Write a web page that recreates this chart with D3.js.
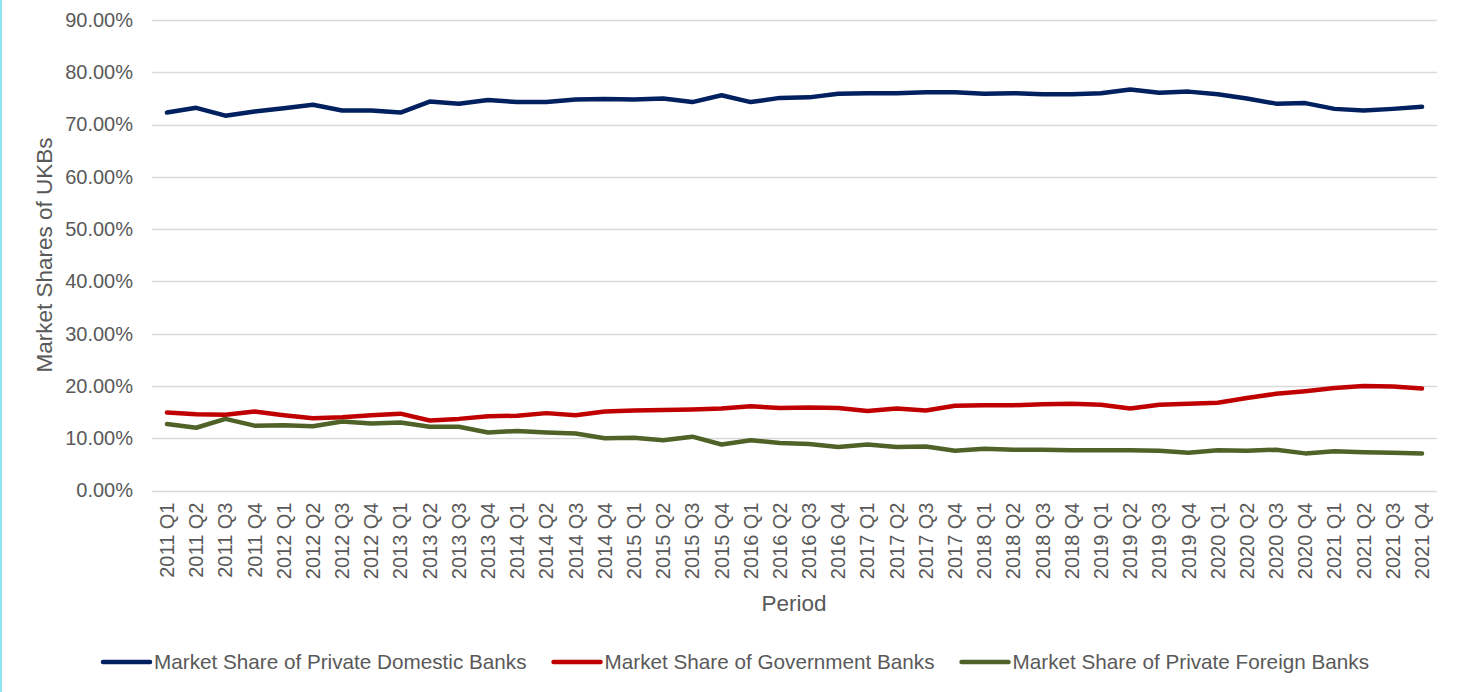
<!DOCTYPE html>
<html>
<head>
<meta charset="utf-8">
<script src="https://cdn.jsdelivr.net/npm/d3@7"></script>
<style>
  html, body { margin: 0; padding: 0; background: #fff; }
  svg { display: block; }
  text { font-family: "Liberation Sans", Arial, sans-serif; fill: #595959; }
</style>
</head>
<body>
<svg id="chart" width="1460" height="692"></svg>
<script>
const periods = [];
for (let y = 2011; y <= 2021; y++) for (let q = 1; q <= 4; q++) periods.push(y + " Q" + q);

const privateDomestic = [72.3, 73.2, 71.7, 72.5, 73.1, 73.8, 72.7, 72.7, 72.3, 74.4, 74.0, 74.7,
  74.3, 74.3, 74.8, 74.9, 74.8, 75.0, 74.3, 75.6, 74.3, 75.1, 75.2, 75.9,
  76.0, 76.0, 76.2, 76.2, 75.9, 76.0, 75.8, 75.8, 76.0, 76.7, 76.1, 76.3,
  75.8, 75.0, 74.0, 74.1, 73.0, 72.7, 73.0, 73.4];
const government = [14.9, 14.6, 14.5, 15.1, 14.4, 13.8, 14.0, 14.4, 14.7, 13.4, 13.7, 14.2,
  14.3, 14.8, 14.4, 15.1, 15.3, 15.4, 15.5, 15.7, 16.1, 15.8, 15.9, 15.8,
  15.2, 15.7, 15.3, 16.2, 16.3, 16.3, 16.5, 16.6, 16.4, 15.7, 16.4, 16.6,
  16.8, 17.7, 18.5, 19.0, 19.6, 20.0, 19.9, 19.5];
const privateForeign = [12.7, 12.0, 13.7, 12.4, 12.5, 12.3, 13.2, 12.8, 13.0, 12.2, 12.2, 11.1,
  11.4, 11.1, 10.9, 10.0, 10.1, 9.6, 10.3, 8.8, 9.6, 9.1, 8.9, 8.3,
  8.8, 8.3, 8.4, 7.6, 8.0, 7.8, 7.8, 7.7, 7.7, 7.7, 7.6, 7.2,
  7.7, 7.6, 7.8, 7.1, 7.5, 7.3, 7.2, 7.1];
const yTicks = [0, 10, 20, 30, 40, 50, 60, 70, 80, 90];
const seriesNames = ["Market Share of Private Domestic Banks", "Market Share of Government Banks", "Market Share of Private Foreign Banks"];
const seriesColors = ["#002060", "#c00000", "#4f6228"];
const seriesValues = [privateDomestic, government, privateForeign];

const svg = d3.select("#chart");
svg.append("rect").attr("x", 0).attr("y", 0).attr("width", 2).attr("height", 692).attr("fill", "#8fe6f0");

const x = d3.scaleBand().domain(periods).range([152.4, 1436.6]).padding(0);
const y = d3.scaleLinear().domain([0, 90]).range([490.5, 20]);

// gridlines
const grid = svg.append("g");
grid.selectAll("line").data(yTicks).join("line")
  .attr("x1", 152).attr("x2", 1437)
  .attr("y1", d => Math.round(y(d)) + 0.5).attr("y2", d => Math.round(y(d)) + 0.5)
  .attr("stroke", "#d9d9d9").attr("stroke-width", 1.3);

// y axis
const yAxis = svg.append("g").attr("transform", "translate(152,0)")
  .call(d3.axisLeft(y).tickValues(yTicks).tickSize(0).tickPadding(19).tickFormat(d => d.toFixed(2) + "%"));
yAxis.select(".domain").remove();
yAxis.selectAll("text").attr("font-size", 20).style("font-family", '"Liberation Sans", Arial, sans-serif').attr("fill", "#595959");

// x axis
const xAxis = svg.append("g").attr("transform", "translate(0,490.5)")
  .call(d3.axisBottom(x).tickSize(0).tickPadding(0));
xAxis.select(".domain").remove();
xAxis.selectAll("text")
  .attr("font-size", 20).style("font-family", '"Liberation Sans", Arial, sans-serif').attr("fill", "#595959")
  .attr("text-anchor", "end")
  .attr("transform", "rotate(-90)")
  .attr("x", -12).attr("y", 0).attr("dy", "0.35em");

// axis titles
svg.append("text").attr("transform", "translate(52,255) rotate(-90)")
  .attr("text-anchor", "middle").attr("font-size", 22.5).text("Market Shares of UKBs");
svg.append("text").attr("x", 794).attr("y", 611)
  .attr("text-anchor", "middle").attr("font-size", 22.5).text("Period");

// lines
const line = d3.line().x((d, i) => x(periods[i]) + x.bandwidth() / 2).y(d => y(d));
seriesValues.forEach((vals, k) => {
  svg.append("path").datum(vals).attr("d", line)
    .attr("fill", "none").attr("stroke", seriesColors[k]).attr("stroke-width", 4.5)
    .attr("stroke-linejoin", "round").attr("stroke-linecap", "round");
});

// legend
const legend = svg.append("g");
let lx = 103;
const ly = 662;
seriesNames.forEach((name, k) => {
  legend.append("line").attr("x1", lx).attr("x2", lx + 47).attr("y1", ly).attr("y2", ly)
    .attr("stroke", seriesColors[k]).attr("stroke-width", 4.5).attr("stroke-linecap", "round");
  const t = legend.append("text").attr("x", lx + 51).attr("y", ly).attr("dy", "0.35em")
    .attr("font-size", 20.7).text(name);
  lx = lx + 51 + t.node().getComputedTextLength() + 27;
});
</script>
</body>
</html>
